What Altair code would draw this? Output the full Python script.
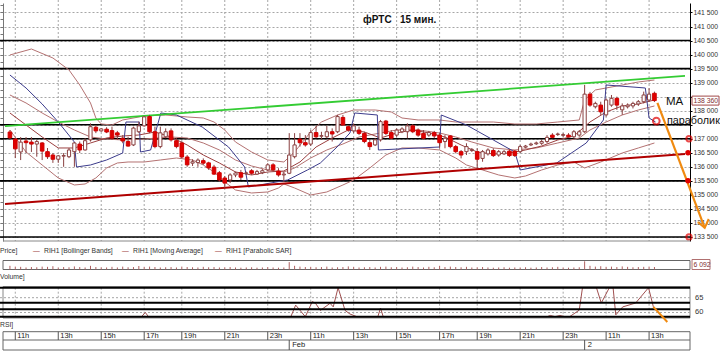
import altair as alt
import pandas as pd

# ---------------- data ----------------
# 15-min bars, index 0 = 10:45 of day 1
OPEN = [137240,136990,136530,136920,136880,136810,136850,136540,136420,136270,
        136380,136360,136540,136810,136600,136960,137410,137280,137340,137290,
        137210,137020,136900,136780,137250,137460,137790,137250,136720,137070,
        137280,136930,136850,136350,136130,136150,136220,136140,135990,135790,
        135600,135530,135710,135790,135770,135860,135740,135790,135890,136070,
        135850,135710,135770,136360,136990,136860,136810,137220,137090,137070,
        137250,137250,137760,137430,137280,137310,137190,136860,136780,136960,
        137630,137220,137130,137250,137250,137460,137310,137190,137130,137220,
        137130,136900,137100,136720,136540,136540,136580,136540,136300,136460,
        136580,136420,136460,136560,136560,136540,136700,136780,136820,136840,
        136900,137130,137150,137120,137130,137070,137130,137250,138590,138140,
        138200,137850,138200,138440,138030,138140,138170,138240,138320,138380,
        138620]
HIGH = [137310,137030,137060,137060,137060,136960,136880,136670,136490,136420,
        136490,136670,136880,136900,137020,137550,137490,137370,137410,137430,
        137280,137130,137070,137430,137610,137810,137850,137430,137430,137370,
        137370,137020,136900,136420,136270,136300,136300,136180,136070,135850,
        135670,135770,135830,135890,135830,135920,135890,135920,136130,136130,
        135950,135830,137200,137200,137200,137130,137310,137460,137250,137460,
        137370,137850,137850,137490,137550,137430,137250,136960,137020,137670,
        137670,137310,137370,137410,137550,137520,137370,137310,137280,137280,
        137200,137130,137130,136780,136600,136840,136670,136660,136600,136660,
        136660,136600,136600,136640,136600,136780,136780,136860,136900,136960,
        137130,137200,137220,137200,137200,137310,137310,138920,138670,138320,
        138320,138440,138560,138500,138260,138260,138320,138380,138680,138800,
        138680]
LOW = [136960,136310,136240,136490,136530,136360,136240,136280,136140,136140,
       136000,136310,136000,136490,136580,136900,137200,137250,137200,136960,
       136960,136840,136720,136740,137200,137430,137200,136660,136660,137020,
       136900,136660,136300,136000,136030,136000,136070,135890,135710,135470,
       135250,135420,135630,135530,135710,135710,135710,135740,135850,135830,
       135650,135470,135740,136300,136720,136720,136740,137020,136980,137020,
       136900,137200,137460,137250,137200,137130,136840,136600,136740,136900,
       137130,136980,137070,137200,137020,137200,137070,136960,137070,137020,
       136660,136660,136660,136480,136300,136420,136530,135950,136180,136400,
       136350,136360,136420,136350,136350,136490,136660,136740,136780,136780,
       136840,137020,137100,137070,137050,137020,137070,137210,138140,138080,
       137850,137790,138140,138030,137850,138080,138080,138170,138260,138320,
       138310]
CLOSE = [137030,136640,136880,136860,136810,136900,136560,136360,136270,136390,
         136400,136600,136850,136600,136930,137430,137280,137350,137240,137020,
         137130,136920,136740,137380,137460,137780,137250,136720,137210,137250,
         136960,136720,136350,136070,136180,136240,136130,135960,135740,135530,
         135420,135710,135780,135630,135780,135770,135830,135860,136070,135890,
         135710,135740,136420,136780,136860,136780,137220,137070,137110,137250,
         137170,137790,137490,137310,137460,137190,136900,136720,136960,137610,
         137190,137020,137310,137350,137460,137250,137130,137020,137220,137100,
         136860,137020,136720,136540,136420,136720,136620,136270,136540,136600,
         136400,136540,136540,136400,136400,136720,136740,136810,136850,136900,
         137050,137050,137170,137150,137070,137250,137250,138590,138200,138260,
         137960,138380,138440,138200,138170,138200,138260,138320,138560,138590,
         138360]
VOLUME = [9000,7000,6500,5000,6000,5500,7000,6500,8000,5000,6000,5500,7500,6000,5000,9000,
          6000,5500,5000,6500,5000,7000,5500,6000,8500,6500,7000,6000,5000,5500,6000,5000,
          7000,6000,5500,5000,6500,5500,6000,5000,5500,6000,5000,4500,5000,5500,4500,5000,
          6000,5000,4500,5000,
          18000,9000,7000,6000,6500,5500,6000,7000,5000,5500,6000,7500,6500,5000,5500,6000,
          5000,6500,7000,5500,6000,5000,5500,7000,6000,5000,6500,5500,9000,6000,7000,6000,
          5500,6500,5000,5500,6000,5000,4500,5000,5500,4500,5000,5000,5500,4500,5000,6000,
          5000,5500,6500,5000,4500,5000,5500,
          20000,9000,7000,8000,6500,7000,6000,7500,6500,5500,6000,6500,7000,6092]

UB_I = [0,4,8,11,13,15,16,17,19,21,25,29,33,36,38,40,42,45,48,51,53,56,58,61,64,68,71,73,76,80,83,86,90,94,98,102,106,107,109,113,117,120]
UB_P = [139985,140199,139878,139451,138916,138275,137740,137526,137490,137669,137811,137847,137776,137740,137597,137312,136884,136528,136243,136172,136528,137241,137597,137847,138025,138025,137954,137740,137669,137669,137597,137597,137597,137526,137526,137597,137669,138382,138738,138880,139023,139094]
MID_I = [0,3,6,9,12,15,18,21,25,30,33,36,39,42,45,48,51,53,56,59,62,65,68,72,76,80,83,86,90,94,98,102,106,108,111,114,117,120]
MID_P = [138560,138275,137918,137597,137312,137063,136991,136956,136991,137063,137027,136849,136600,136243,136029,135887,135816,135958,136314,136600,136813,137063,137170,137312,137312,137205,137063,136884,136671,136600,136671,136849,137027,137312,137597,137847,138025,138168]
MA_I = [0,3,6,9,12,15,18,21,24,27,30,33,36,39,42,45,48,51,54,57,60,63,66,69,72,75,78,81,84,87,90,93,96,99,102,105,108,111,114,117,120]
MA_P = [137918,137490,137063,136671,136671,136849,137027,137098,137134,137241,137063,136778,136421,136136,135816,135709,135816,135851,136172,136706,137027,137312,137241,137027,137205,137312,137205,137063,136778,136528,136457,136492,136600,136742,136956,137098,137597,137954,138168,138239,138382]
LB_I = [0,3,6,9,12,14,16,18,20,22,25,28,31,34,36,38,40,42,45,48,50,51,53,56,59,62,64,67,70,73,76,80,83,85,88,91,94,96,99,102,105,107,110,114,117,120]
LB_P = [137312,136528,136065,135602,135352,135388,135602,135958,136136,136172,136172,136243,136314,136243,136065,135816,135459,135174,135067,135103,135245,135388,135245,134996,135103,135352,135530,135958,136421,136671,136671,136600,136314,136065,135887,135709,135602,135673,135887,136065,136172,135958,136172,136492,136671,136849]
SAR_I = [0,3,6,9,12,12.4,15,18,21,21.6,24.1,24.3,26.2,28.1,31,35.8,40.7,43.7,44.4,51.7,55.4,57.8,60.9,63.3,64.2,68.4,68.6,80,80.3,85,90,94,95,101.8,107.3,110.5,111,118.3,119,120.2]
SAR_P = [139272,138809,138239,137597,136884,135994,136065,136243,136492,137597,137597,136528,136600,137918,137847,137419,136706,135994,135281,135530,135887,136136,136706,137205,137918,137847,136600,136706,137847,137490,136956,136528,135887,136136,136849,137669,138916,138809,137740,137597]

RSI_I = [0,24.5,25.2,25.8,51.8,52.3,53.2,55,56.3,56.9,57.8,59.6,60.2,61.1,62.4,63.3,64.6,65.5,68.5,69,69.5,100,100.6,101.5,102.4,103.3,104.2,106,106.6,108.7,109.2,110.1,111.6,112,112.3,112.8,114.1,116.5,118.9,119.8]
RSI_V = [45,50,60,50,50,58.3,62.5,58.3,63.7,63.1,60.7,63.1,61.9,69,60.7,59.5,58.3,55,56,61.5,56,55,59,58.2,59,58.3,58.5,60.8,72,74,68.6,63.2,68.6,72,68.6,59.2,61.9,63.2,68.6,61.9]

LEVELS = [140500, 139500, 137500, 137000, 135500, 133500]
GREEN_I, GREEN_P = [-0.92, 125.69], [137450, 139240]
RED_I, RED_P = [-0.92, 125.69], [134675, 136457]
ORANGE_I, ORANGE_P = [120.55, 129.36], [138275, 133820]
ARROW_I, ARROW_P = [128.07, 129.36, 130.1], [134034, 133820, 134141]
ORSI_I, ORSI_V = [119.8, 122.4], [61.9, 56.8]
ALERT_P = [137000, 133500]
ALERT_FILL_P = [136500, 135500]
PARA_I, PARA_P = [120.35], [137630]
LAST_PRICE = 138360

HOUR_IDX = [1, 9, 17, 25, 32, 40, 48, 56, 64, 72, 80, 87, 95, 103, 111, 119]
HOUR_LAB = ["11h", "13h", "15h", "17h", "19h", "21h", "23h", "11h", "13h", "15h",
            "17h", "19h", "21h", "23h", "11h", "13h"]
DAY_IDX = [52, 107]
DAY_LAB = ["Feb", "2"]
PRICE_TICKS = list(range(133500, 142000, 500))
MINOR_TICKS = list(range(133500, 141800, 250))
RSI_LINES = [68.38, 63.31, 61.08, 58.58]
RSI_GRID = [65, 60]

# ---------------- styling ----------------
FONT = "Liberation Sans"
WICK = "#8a4040"
BAND = "#b47272"
MAC = "#9c4040"
SARC = "#3c3c8c"
GRID = "#a6a6a6"

XS = alt.Scale(domain=[-0.917, 125.688], nice=False, zero=False)
PS = alt.Scale(domain=[133356, 141838], range=[241, 3], nice=False, zero=False)
RS = alt.Scale(domain=[58.58, 68.38], range=[316.7, 287.7], nice=False, zero=False, clamp=True)
RS2 = alt.Scale(domain=[58.58, 68.38], range=[316.7, 287.7], nice=False, zero=False)
VS = alt.Scale(domain=[0, 22000], range=[269.5, 260.5], nice=False, zero=False)


def X(f="i"):
    return alt.X(f + ":Q", scale=XS, axis=None)


def PY(f="p", axis=None):
    return alt.Y(f + ":Q", scale=PS, axis=axis)


def line_df(i, p):
    return pd.DataFrame({"i": i, "p": p, "k": list(range(len(i)))})


def pline(i, p, color, w=1.0, **kw):
    return alt.Chart(line_df(i, p)).mark_line(color=color, strokeWidth=w, **kw).encode(
        x=X(), y=PY(), order="k:Q")


def label(text, x, y, size=7, color="#333", align="left", bold=False):
    return alt.Chart(pd.DataFrame({"a": [0]})).mark_text(
        text=text, x=x, y=y, align=align, baseline="middle", font=FONT, fontSize=size,
        color=color, fontWeight="bold" if bold else "normal").encode(opacity=alt.value(1))


def box(x, x2, y, y2, stroke="#777", fill="white", fo=0.0, w=1):
    return alt.Chart(pd.DataFrame({"a": [0]})).mark_rect(
        stroke=stroke, strokeWidth=w, fill=fill, fillOpacity=fo).encode(
        x=alt.value(x), x2=alt.value(x2), y=alt.value(y), y2=alt.value(y2))


cdf = pd.DataFrame({"i": list(range(len(OPEN))), "o": OPEN, "h": HIGH, "l": LOW, "c": CLOSE})
hours = pd.DataFrame({"i": HOUR_IDX, "t": HOUR_LAB})
days = pd.DataFrame({"i": DAY_IDX, "t": DAY_LAB})
vdf = pd.DataFrame({"i": list(range(len(VOLUME))), "v": VOLUME})

layers = []
# vertical dashed grid (price + RSI panels)
layers.append(alt.Chart(hours).mark_rule(color=GRID, strokeDash=[2, 2]).encode(
    x=X(), y=alt.value(0), y2=alt.value(241)))
layers.append(alt.Chart(hours).mark_rule(color=GRID, strokeDash=[2, 2]).encode(
    x=X(), y=alt.value(287.7), y2=alt.value(316.7)))

# horizontal black levels + right price axis
price_axis = alt.Axis(orient="right", values=PRICE_TICKS,
                      labelExpr="(datum.value == 138500 || datum.value == 137500) ? '' : replace(format(datum.value, ',d'), ',', ' ')",
                      labelFont=FONT, labelFontSize=6.8, labelColor="#333", labelPadding=1,
                      tickSize=2, tickColor="#000", domainColor="#000", grid=True,
                      gridColor=GRID, gridDash=[2, 2], title=None)
layers.append(alt.Chart(pd.DataFrame({"p": LEVELS})).mark_rule(color="black", strokeWidth=1.6).encode(
    y=PY("p", price_axis)))
# left minor tick axis
left_axis = alt.Axis(orient="left", offset=-3, values=MINOR_TICKS, labels=False, tickSize=3,
                     tickColor="#777", domainColor="#777", grid=False, title=None)
layers.append(alt.Chart(pd.DataFrame({"p": MINOR_TICKS})).mark_point(opacity=0).encode(
    y=PY("p", left_axis)))

# indicators
layers.append(pline(UB_I, UB_P, BAND))
layers.append(pline(MID_I, MID_P, BAND))
layers.append(pline(LB_I, LB_P, BAND))
layers.append(pline(MA_I, MA_P, MAC))
layers.append(pline(SAR_I, SAR_P, SARC))
layers.append(pline(GREEN_I, GREEN_P, "#33cc33", 1.8))
layers.append(pline(RED_I, RED_P, "#b00000", 2))

# candles
layers.append(alt.Chart(cdf).mark_rule(color=WICK, strokeWidth=1).encode(
    x=X(), y=PY("l"), y2="h:Q"))
layers.append(alt.Chart(cdf).transform_filter("datum.c >= datum.o").mark_bar(
    size=3.2, fill="white", stroke=WICK, strokeWidth=1).encode(x=X(), y=PY("o"), y2="c:Q"))
layers.append(alt.Chart(cdf).transform_filter("datum.c < datum.o").mark_bar(
    size=3.6, fill="#e00000", stroke="#d00000", strokeWidth=1).encode(x=X(), y=PY("o"), y2="c:Q"))

# orange forecast line + arrow head
layers.append(pline(ORANGE_I, ORANGE_P, "#f08a10", 2.2))
layers.append(pline(ARROW_I, ARROW_P, "#f08a10", 2))

# markers
layers.append(alt.Chart(pd.DataFrame({"i": PARA_I, "p": PARA_P})).mark_point(
    shape="circle", filled=False, color="#e00000", strokeWidth=2, size=45).encode(x=X(), y=PY()))
layers.append(alt.Chart(pd.DataFrame({"p": ALERT_P})).mark_point(
    shape="circle", filled=False, color="#e00000", strokeWidth=2, size=28).encode(
    x=alt.value(689), y=PY()))
layers.append(alt.Chart(pd.DataFrame({"p": ALERT_FILL_P})).mark_point(
    shape="circle", filled=True, color="#e00000", opacity=1, size=30).encode(
    x=alt.value(688), y=PY()))

# last price box on axis
lp = pd.DataFrame({"p": [LAST_PRICE], "hi": [LAST_PRICE + 160], "lo": [LAST_PRICE - 160],
                   "t": ["138 360"]})
layers.append(alt.Chart(lp).mark_rect(fill="white", stroke="#a04848", strokeWidth=1).encode(
    x=alt.value(692), x2=alt.value(719), y=PY("hi"), y2="lo:Q"))
layers.append(alt.Chart(lp).mark_text(font=FONT, fontSize=6.8, color="#803030", align="left",
                                      baseline="middle").encode(
    x=alt.value(693.5), y=PY("p"), text="t:N"))

# annotations
layers.append(label("фРТС\u00a0\u00a0\u00a015 мин.", 363, 20, size=10, color="#111", bold=True))
layers.append(label("MA", 666, 102, size=11.5, color="#111"))
layers.append(label("параболик", 667, 121, size=10.8, color="#111"))

# bottom of price panel
layers.append(alt.Chart(pd.DataFrame({"a": [0]})).mark_rule(color="#888").encode(
    x=alt.value(3), x2=alt.value(690), y=alt.value(241)))

# legend row
layers.append(label("Price]", 0, 251, size=6.8))
for xs, txt in [(33, "RIH1 [Bollinger Bands]"), (122, "RIH1 [Moving Average]"),
                (215, "RIH1 [Parabolic SAR]")]:
    layers.append(label("—", xs, 251, size=6.8, color="#9c4040"))
    layers.append(label(txt, xs + 11, 251, size=6.8))

# volume strip
layers.append(box(3, 690, 260.5, 269.5, stroke="#666"))
layers.append(alt.Chart(vdf).mark_rule(color="#b06060", strokeWidth=1).encode(
    x=X(), y=alt.Y("v:Q", scale=VS, axis=None), y2=alt.Y2(datum=0)))
layers.append(box(692, 710, 259.5, 269.5, stroke="#b07070", fo=1))
layers.append(label("6 092", 693.5, 264.5, size=6.8, color="#803030"))
layers.append(label("Volume]", 0, 277, size=6.8))

# RSI panel
layers.append(box(3, 690, 286.5, 318, stroke="#888"))
layers.append(alt.Chart(pd.DataFrame({"r": RSI_GRID})).mark_rule(
    color=GRID, strokeDash=[2, 2]).encode(y=alt.Y("r:Q", scale=RS2, axis=None)))
layers.append(alt.Chart(pd.DataFrame({"i": RSI_I, "r": RSI_V, "k": list(range(len(RSI_I)))})).mark_line(
    color="#a05050", strokeWidth=1).encode(x=X(), y=alt.Y("r:Q", scale=RS, axis=None), order="k:Q"))
layers.append(alt.Chart(pd.DataFrame({"r": RSI_LINES})).mark_rule(
    color="black", strokeWidth=2).encode(y=alt.Y("r:Q", scale=RS2, axis=None)))
layers.append(alt.Chart(pd.DataFrame({"i": ORSI_I, "r": ORSI_V})).mark_line(
    color="#f08a10", strokeWidth=2).encode(x=X(), y=alt.Y("r:Q", scale=RS2, axis=None)))
layers.append(alt.Chart(pd.DataFrame({"r": RSI_GRID, "t": ["65", "60"]})).mark_text(
    font=FONT, fontSize=7.5, color="#333", align="left", baseline="middle").encode(
    x=alt.value(695), y=alt.Y("r:Q", scale=RS2, axis=None), text="t:N"))
layers.append(label("RSI]", 0, 325, size=6.8))

# time axis box
layers.append(box(3, 690, 331.7, 350, stroke="#666"))
layers.append(alt.Chart(pd.DataFrame({"a": [0]})).mark_rule(color="#666").encode(
    x=alt.value(3), x2=alt.value(690), y=alt.value(340)))
layers.append(alt.Chart(hours).mark_rule(color="#555").encode(
    x=X(), y=alt.value(331.7), y2=alt.value(340)))
layers.append(alt.Chart(hours).mark_text(font=FONT, fontSize=7.5, color="#222", align="left",
                                         baseline="middle", dx=2).encode(
    x=X(), y=alt.value(336), text="t:N"))
layers.append(alt.Chart(days).mark_rule(color="#555").encode(
    x=X(), y=alt.value(340), y2=alt.value(350)))
layers.append(alt.Chart(days).mark_text(font=FONT, fontSize=7.5, color="#222", align="left",
                                        baseline="middle", dx=3).encode(
    x=X(), y=alt.value(345), text="t:N"))

chart = alt.layer(*layers).resolve_scale(y="independent").properties(
    width=690, height=352, autosize="none",
    padding={"left": 0, "top": 0, "right": 30, "bottom": 0},
    background="white").configure_view(strokeWidth=0)

chart.save("out.html", embed_options={"renderer": "svg", "actions": False})
